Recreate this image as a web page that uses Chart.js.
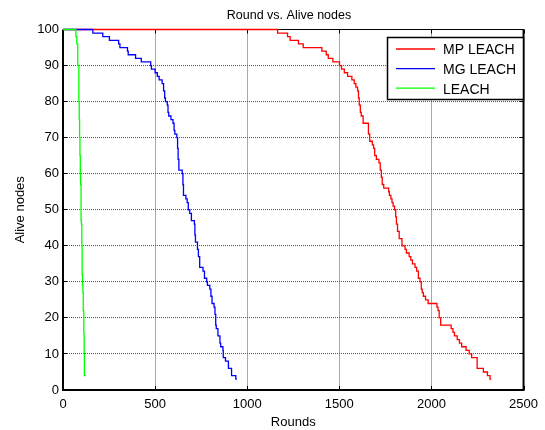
<!DOCTYPE html>
<html>
<head>
<meta charset="utf-8">
<script src="https://cdn.jsdelivr.net/npm/chart.js@4.4.1/dist/chart.umd.min.js"></script>
<style>
html,body{margin:0;padding:0;background:#fff;}
#wrap{width:545px;height:430px;position:relative;}
</style>
</head>
<body>
<div id="wrap"><canvas id="c" width="545" height="430"></canvas></div>
<script>
const chartTitle = 'Round vs. Alive nodes';
const xAxisLabel = 'Rounds';
const yAxisLabel = 'Alive nodes';
const seriesNames = ['MP LEACH', 'MG LEACH', 'LEACH'];
const seriesColors = ['#ff0000', '#0000ff', '#00ff00'];
const xTickLabels = [0, 500, 1000, 1500, 2000, 2500];
const yTickLabels = [0, 10, 20, 30, 40, 50, 60, 70, 80, 90, 100];

// MP LEACH: round at which the alive count drops, and the new count
const mpRounds = [0,1165,1219,1233,1278,1304,1405,1429,1440,1465,1501,1512,1527,1545,1568,1581,1590,1599,1604,1608,1614,1619,1629,1658,1665,1679,1686,1692,1701,1715,1722,1728,1733,1741,1768,1772,1780,1786,1792,1800,1806,1810,1816,1825,1840,1857,1864,1879,1888,1897,1911,1920,1929,1938,1945,1950,1956,1968,1982,2030,2036,2042,2050,2107,2117,2125,2140,2152,2164,2188,2205,2218,2248,2282,2304,2318,2325];
const mpAlive  = [100,99,98,97,96,95,94,93,92,91,90,89,88,87,86,85,84,83,81,79,77,76,74,71,69,68,67,65,64,63,61,59,57,56,55,54,53,52,51,50,48,46,44,42,40,39,38,37,36,35,34,33,31,30,28,27,26,25,24,23,22,20,18,17,16,15,14,13,12,11,10,9,6,5,4,3,3];

// MG LEACH
const mgRounds = [0,162,216,252,302,309,350,354,394,425,476,480,500,512,522,538,546,552,556,566,570,574,586,597,603,607,618,622,625,629,647,651,654,667,674,680,688,697,713,716,719,730,735,742,760,768,780,784,797,803,809,820,825,829,832,841,852,856,868,870,882,898,915,938,944];
const mgAlive  = [100,99,98,97,96,95,94,93,92,91,90,89,88,87,86,85,83,81,80,79,77,76,75,74,72,71,70,67,64,61,60,57,54,53,52,50,49,47,46,43,41,39,37,34,33,31,30,29,28,26,24,23,21,18,17,15,13,12,11,9,8,6,4,3,3];

// LEACH
const leachRounds = [0,64,70,75,80,86,88,90,92,94,95,96,98,100,102,104,106,108,110,113,114,115,116,124];
const leachAlive  = [100,100,98,96,90,80,75,70,65,60,58,57,47,46,40,32,29,27,22,16,15,10,4,4];

const FONT = "'Liberation Sans', Arial, Helvetica, sans-serif";

function toPoints(xs, ys) { return xs.map((v, i) => ({x: v, y: ys[i]})); }

const frame = {
  id: 'frame',
  beforeDatasetsDraw(chart) {
    const {ctx, chartArea: a, scales: {x, y}} = chart;
    ctx.save();
    ctx.strokeStyle = '#000';
    ctx.lineWidth = 1;
    ctx.beginPath();
    xTickLabels.forEach(v => {
      const p = Math.round(x.getPixelForValue(v)) + 0.5;
      ctx.moveTo(p, a.bottom); ctx.lineTo(p, a.bottom - 4);
      ctx.moveTo(p, a.top); ctx.lineTo(p, a.top + 4);
    });
    yTickLabels.forEach(v => {
      const p = Math.round(y.getPixelForValue(v) - 0.5) + 0.5;
      ctx.moveTo(a.left, p); ctx.lineTo(a.left + 4, p);
      ctx.moveTo(a.right, p); ctx.lineTo(a.right - 4, p);
    });
    ctx.stroke();
    ctx.lineWidth = 2;
    ctx.beginPath();
    ctx.moveTo(a.left, a.top);
    ctx.lineTo(a.left, a.bottom);
    ctx.lineTo(a.right, a.bottom);
    ctx.lineTo(a.right, a.top);
    ctx.stroke();
    ctx.lineWidth = 1;
    ctx.beginPath();
    ctx.moveTo(a.left, a.top);
    ctx.lineTo(a.right, a.top);
    ctx.stroke();
    ctx.restore();
  },
  afterDatasetsDraw(chart) {
    const ctx = chart.ctx;
    ctx.save();
    // legend
    ctx.fillStyle = '#fff';
    ctx.fillRect(387, 37, 137, 63);
    ctx.strokeStyle = '#000';
    ctx.lineWidth = 1.5;
    ctx.strokeRect(387.5, 37.5, 136, 62);
    ctx.font = '14px ' + FONT;
    ctx.textAlign = 'left';
    ctx.textBaseline = 'middle';
    seriesNames.forEach((name, i) => {
      const ry = 50 + 19.6 * i;
      ctx.strokeStyle = seriesColors[i];
      ctx.lineWidth = 1.3;
      ctx.beginPath();
      ctx.moveTo(396, ry - 1);
      ctx.lineTo(435, ry - 1);
      ctx.stroke();
      ctx.fillStyle = '#000';
      ctx.fillText(name, 443, ry + 0.6);
    });
    // title
    ctx.font = '12.5px ' + FONT;
    ctx.textAlign = 'center';
    ctx.textBaseline = 'middle';
    ctx.fillStyle = '#000';
    ctx.fillText(chartTitle, 289, 15.3);
    ctx.restore();
  }
};

const gridColor = (ctx, lo, hi) => (ctx.tick && (ctx.tick.value === lo || ctx.tick.value === hi)) ? 'rgba(0,0,0,0)' : '#555';

new Chart(document.getElementById('c'), {
  type: 'line',
  data: {
    datasets: [
      {label: seriesNames[0], data: toPoints(mpRounds, mpAlive), borderColor: seriesColors[0], order: 3},
      {label: seriesNames[1], data: toPoints(mgRounds, mgAlive), borderColor: seriesColors[1], order: 2},
      {label: seriesNames[2], data: toPoints(leachRounds, leachAlive), borderColor: seriesColors[2], order: 1}
    ].map(d => Object.assign(d, {borderWidth: 1.3, pointRadius: 0, stepped: true, fill: false, clip: false, tension: 0}))
  },
  options: {
    responsive: false,
    animation: false,
    events: [],
    layout: {padding: {left: 0, right: 15, top: 29.5, bottom: 0}, autoPadding: false},
    plugins: {legend: {display: false}, title: {display: false}, tooltip: {enabled: false}},
    scales: {
      x: {
        type: 'linear', min: 0, max: 2500,
        afterBuildTicks: s => { s.ticks = xTickLabels.map(v => ({value: v})); },
        afterFit: s => { s.height = 40; },
        ticks: {font: {family: FONT, size: 13}, color: '#000', padding: 7, maxRotation: 0, autoSkip: false, callback: v => String(v)},
        grid: {drawTicks: false, color: c => gridColor(c, 0, 2500), lineWidth: 1},
        border: {display: false, dash: [1, 1]},
        title: {display: true, text: xAxisLabel, font: {family: FONT, size: 13}, color: '#000', padding: {top: 0, bottom: 0}}
      },
      y: {
        type: 'linear', min: 0, max: 100,
        afterBuildTicks: s => { s.ticks = yTickLabels.map(v => ({value: v})); },
        afterFit: s => { s.width = 63; },
        ticks: {font: {family: FONT, size: 13}, color: '#000', padding: 4, autoSkip: false, callback: v => String(v)},
        grid: {drawTicks: false, color: c => gridColor(c, 0, 100), lineWidth: 1},
        border: {display: false, dash: [1, 1]},
        title: {display: true, text: yAxisLabel, font: {family: FONT, size: 13}, color: '#000', padding: {top: 13, bottom: 0}}
      }
    }
  },
  plugins: [frame]
});
</script>
</body>
</html>
